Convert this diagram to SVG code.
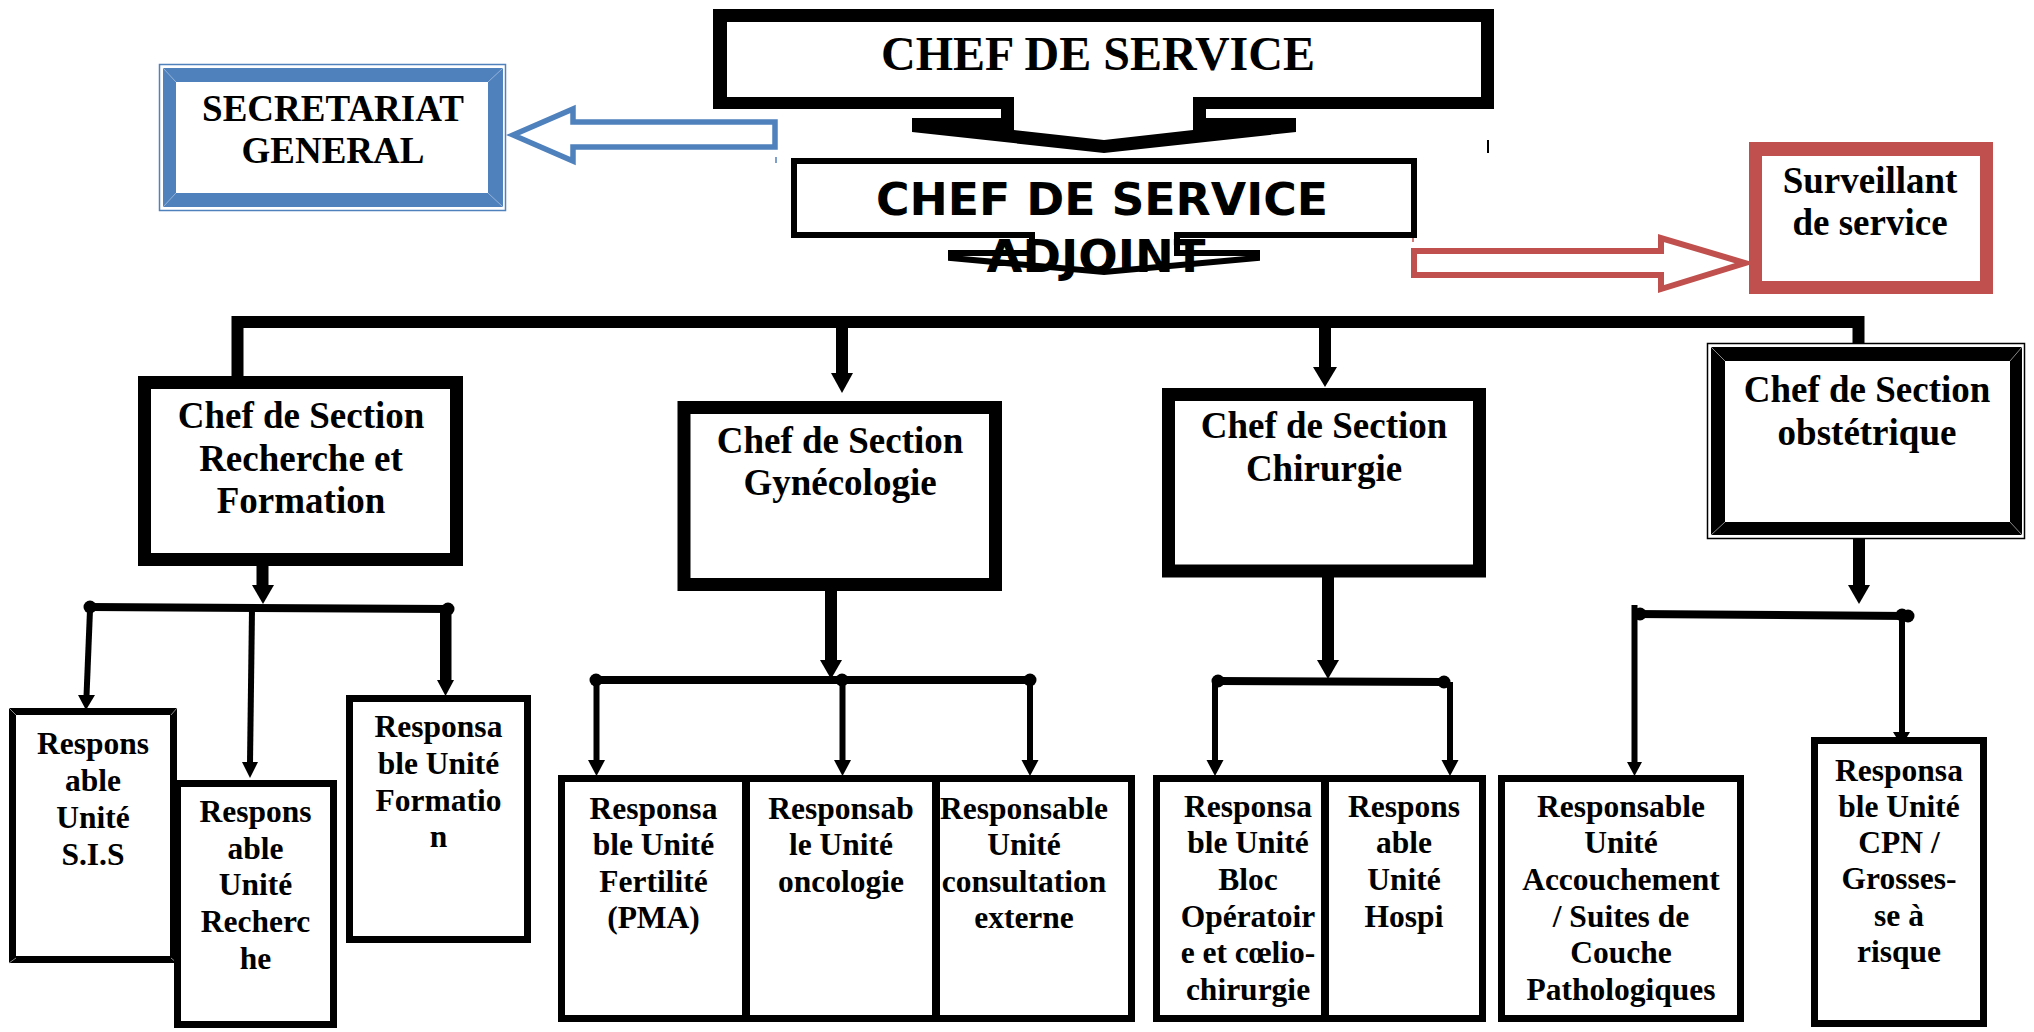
<svg xmlns="http://www.w3.org/2000/svg" width="2034" height="1032" viewBox="0 0 2034 1032">
<style>
.t{font-family:"Liberation Serif","Times New Roman",serif;font-weight:bold;text-anchor:middle;fill:#000}
.sans{font-family:"DejaVu Sans","Verdana",sans-serif;font-weight:bold;text-anchor:middle;fill:#000}
.s48{font-size:48px}.s37{font-size:37px}.s31{font-size:31.5px}
.box{fill:#fff;stroke:#000;stroke-width:13}
.sub{fill:#fff;stroke:#000;stroke-width:7}
.thick{stroke:#000;stroke-width:12;fill:none}
.thin{stroke:#000;stroke-width:6;fill:none}
.hl{stroke:#000;stroke-width:8;fill:none}
.ah{fill:#000}
</style>
<rect width="2034" height="1032" fill="#fff"/>

<g id="connectors">
  <!-- top distribution bar -->
  <path class="thick" d="M237.5,376 V322 H1858.5 V343" stroke-linejoin="miter"/>
  <line class="thick" x1="842" y1="322" x2="842" y2="374"/>
  <polygon class="ah" points="831,373 853,373 842,393"/>
  <line class="thick" x1="1325" y1="322" x2="1325" y2="368"/>
  <polygon class="ah" points="1313,367 1337,367 1325,387"/>
  <!-- section down arrows -->
  <line class="thick" x1="262.5" y1="566" x2="262.5" y2="586" stroke-width="13"/>
  <polygon class="ah" points="252,585 274,585 263,604"/>
  <line class="thick" x1="831" y1="591" x2="831" y2="661"/>
  <polygon class="ah" points="820,660 842,660 831,679"/>
  <line class="thick" x1="1328" y1="577" x2="1328" y2="661"/>
  <polygon class="ah" points="1317,660 1339,660 1328,679"/>
  <line class="thick" x1="1859" y1="539" x2="1859" y2="586" stroke-width="12"/>
  <polygon class="ah" points="1848,585 1870,585 1859,604"/>
  <!-- Recherche branch -->
  <line class="hl" x1="90" y1="607" x2="448" y2="609" stroke-width="7"/>
  <circle cx="90" cy="607" r="6.5"/>
  <circle cx="448" cy="609" r="6.5"/>
  <line class="thin" x1="90" y1="610" x2="86.5" y2="696"/>
  <polygon class="ah" points="78,695 95,695 86,710"/>
  <line class="thin" x1="252" y1="609" x2="250" y2="763"/>
  <polygon class="ah" points="242,762 258,762 250,778"/>
  <line class="thin" x1="443" y1="609" x2="443" y2="681" stroke-width="4"/>
  <line class="thin" x1="448.5" y1="609" x2="448.5" y2="681" stroke-width="4"/>
  <polygon class="ah" points="437,680 454,680 445.5,696"/>
  <!-- Gynecologie branch -->
  <line class="hl" x1="596" y1="680" x2="1030" y2="680"/>
  <circle cx="596" cy="680" r="6.5"/>
  <circle cx="842" cy="680" r="6.5"/>
  <circle cx="1030" cy="680" r="6.5"/>
  <line class="thin" x1="596.5" y1="680" x2="596.5" y2="761"/>
  <polygon class="ah" points="588,760 605,760 596.5,776"/>
  <line class="thin" x1="842.5" y1="680" x2="842.5" y2="761"/>
  <polygon class="ah" points="834,760 851,760 842.5,776"/>
  <line class="thin" x1="1030" y1="680" x2="1030" y2="761"/>
  <polygon class="ah" points="1021.5,760 1038.5,760 1030,776"/>
  <!-- Chirurgie branch -->
  <line class="hl" x1="1218" y1="681" x2="1444" y2="682"/>
  <circle cx="1218" cy="681" r="6.5"/>
  <circle cx="1444" cy="682" r="6.5"/>
  <line class="thin" x1="1215" y1="681" x2="1215" y2="761"/>
  <polygon class="ah" points="1206.5,760 1223.5,760 1215,776"/>
  <line class="thin" x1="1450" y1="682" x2="1450" y2="761"/>
  <polygon class="ah" points="1441.5,760 1458.5,760 1450,776"/>
  <!-- Obstetrique branch -->
  <line class="hl" x1="1634" y1="614" x2="1908" y2="616"/>
  <line class="thin" x1="1634.5" y1="605" x2="1634.5" y2="763"/>
  <circle cx="1640" cy="614" r="6.5"/>
  <circle cx="1902" cy="615" r="6.5"/>
  <circle cx="1908" cy="616" r="6.5"/>
  <polygon class="ah" points="1627,762 1642,762 1634.5,776"/>
  <line class="thin" x1="1902" y1="616" x2="1902" y2="733"/>
  <polygon class="ah" points="1893,732 1910,732 1901.5,746"/>
  <!-- blue arrow to secretariat -->
  <path d="M513,135 L573,109 V122 H775 V147 H573 V161 Z" fill="#fff" stroke="#4F81BD" stroke-width="5.5" stroke-linejoin="miter"/>
  <!-- red arrow to surveillant -->
  <path d="M1414,251 H1661 V238 L1745,263 L1661,289 V275 H1414 Z" fill="#fff" stroke="#C0504D" stroke-width="6" stroke-linejoin="miter"/>
  <!-- small ticks -->
  <line x1="776" y1="157" x2="776" y2="163" stroke="#4F81BD" stroke-width="1.5"/>
  <line x1="1413" y1="235" x2="1413" y2="242" stroke="#C0504D" stroke-width="1.5"/>
  <line x1="1488" y1="140" x2="1488" y2="153" stroke="#000" stroke-width="2"/>
</g>

<g id="chef-de-service">
  <polygon points="713,9 1494,9 1494,109 1206,109 1206,118 1296,118 1296,132 1104,153 912,132 912,118 1001,118 1001,109 713,109" fill="#000"/>
  <polygon points="727,22 1481,22 1481,97 1193,97 1193,130 1104,140 1014,130 1014,97 727,97" fill="#fff"/>
  <text class="t s48" x="1098" y="70">CHEF DE SERVICE</text>
</g>

<g id="chef-de-service-adjoint">
  <path d="M794,161 H1414 V235 H1177 V253 H1257 V258 L1104,272 L951,258 V253 H1032 V235 H794 Z" fill="#fff" stroke="#000" stroke-width="6" stroke-linejoin="miter"/>
  <text class="sans" font-size="45" x="1102" y="215" textLength="452" lengthAdjust="spacingAndGlyphs">CHEF DE SERVICE</text>
  <text class="sans" font-size="45" x="1096" y="272" textLength="219" lengthAdjust="spacingAndGlyphs">ADJOINT</text>
</g>

<g id="secretariat">
  <rect x="159.5" y="64.5" width="346" height="146" fill="none" stroke="#4F81BD" stroke-width="1.5"/>
  <rect x="163" y="68" width="340" height="139" fill="#4F81BD"/>
  <rect x="176" y="82" width="312" height="111" fill="#fff"/>
  <g stroke="#95B3D7" stroke-width="1">
    <line x1="163" y1="68" x2="176" y2="82"/><line x1="503" y1="68" x2="488" y2="82"/>
    <line x1="163" y1="207" x2="176" y2="193"/><line x1="503" y1="207" x2="488" y2="193"/>
  </g>
  <text class="t s37"><tspan x="333" y="121">SECRETARIAT</tspan><tspan x="333" y="163">GENERAL</tspan></text>
</g>

<g id="surveillant">
  <rect x="1749" y="142" width="244" height="152" fill="#C0504D"/>
  <rect x="1762" y="156" width="218" height="125" fill="#fff"/>
  <text class="t s37"><tspan x="1870" y="193">Surveillant</tspan><tspan x="1870" y="235">de service</tspan></text>
</g>

<g id="section-recherche">
  <rect class="box" x="144.5" y="382.5" width="312" height="177"/>
  <text class="t s37"><tspan x="301" y="428">Chef de Section</tspan><tspan x="301" y="470.5">Recherche et</tspan><tspan x="301" y="513">Formation</tspan></text>
</g>

<g id="section-gynecologie">
  <rect class="box" x="684" y="407.5" width="311.5" height="177"/>
  <text class="t s37"><tspan x="840" y="452.5">Chef de Section</tspan><tspan x="840" y="495">Gynécologie</tspan></text>
</g>

<g id="section-chirurgie">
  <rect class="box" x="1168.5" y="394.5" width="311" height="176.5"/>
  <text class="t s37"><tspan x="1324" y="438">Chef de Section</tspan><tspan x="1324" y="480.5">Chirurgie</tspan></text>
</g>

<g id="section-obstetrique">
  <rect x="1707.5" y="343.5" width="317" height="195" fill="none" stroke="#000" stroke-width="1.5"/>
  <rect x="1711" y="347" width="311" height="188" fill="#000"/>
  <rect x="1725" y="361" width="285" height="161" fill="#fff"/>
  <g stroke="#888" stroke-width="1">
    <line x1="1711" y1="347" x2="1725" y2="361"/><line x1="2022" y1="347" x2="2010" y2="361"/>
    <line x1="1711" y1="535" x2="1725" y2="522"/><line x1="2022" y1="535" x2="2010" y2="522"/>
  </g>
  <text class="t s37"><tspan x="1867" y="402">Chef de Section</tspan><tspan x="1867" y="444.5">obstétrique</tspan></text>
</g>

<g id="unite-sis">
  <rect class="sub" x="12.5" y="711.5" width="161" height="248"/>
  <g stroke="#888" stroke-width="1">
    <line x1="9" y1="708" x2="16" y2="715"/><line x1="177" y1="708" x2="171" y2="715"/>
    <line x1="9" y1="963" x2="16" y2="958"/><line x1="177" y1="963" x2="171" y2="958"/>
  </g>
  <text class="t s31"><tspan x="93" y="754">Respons</tspan><tspan x="93" y="791">able</tspan><tspan x="93" y="828">Unité</tspan><tspan x="93" y="865">S.I.S</tspan></text>
</g>

<g id="unite-recherche">
  <rect class="sub" x="177.5" y="783.5" width="156" height="241"/>
  <text class="t s31"><tspan x="255.5" y="822">Respons</tspan><tspan x="255.5" y="859">able</tspan><tspan x="255.5" y="895">Unité</tspan><tspan x="255.5" y="932">Recherc</tspan><tspan x="255.5" y="969">he</tspan></text>
</g>

<g id="unite-formation">
  <rect class="sub" x="349.5" y="698.5" width="178" height="241"/>
  <text class="t s31"><tspan x="438.5" y="737">Responsa</tspan><tspan x="438.5" y="774">ble Unité</tspan><tspan x="438.5" y="811">Formatio</tspan><tspan x="438.5" y="847">n</tspan></text>
</g>

<g id="unite-fertilite">
  <rect class="sub" x="561.5" y="778.5" width="184" height="240"/>
  <text class="t s31"><tspan x="653.5" y="819">Responsa</tspan><tspan x="653.5" y="855">ble Unité</tspan><tspan x="653.5" y="892">Fertilité</tspan><tspan x="653.5" y="928">(PMA)</tspan></text>
</g>

<g id="unite-oncologie">
  <rect class="sub" x="746.5" y="778.5" width="189" height="240"/>
  <text class="t s31"><tspan x="841" y="819">Responsab</tspan><tspan x="841" y="855">le Unité</tspan><tspan x="841" y="892">oncologie</tspan></text>
</g>

<g id="unite-consultation">
  <rect class="sub" x="936.5" y="778.5" width="195" height="240"/>
  <text class="t s31"><tspan x="1024" y="819">Responsable</tspan><tspan x="1024" y="855">Unité</tspan><tspan x="1024" y="892">consultation</tspan><tspan x="1024" y="928">externe</tspan></text>
</g>

<g id="unite-bloc">
  <rect class="sub" x="1156.5" y="778.5" width="168" height="240"/>
  <text class="t s31"><tspan x="1248" y="817">Responsa</tspan><tspan x="1248" y="853">ble Unité</tspan><tspan x="1248" y="890">Bloc</tspan><tspan x="1248" y="927">Opératoir</tspan><tspan x="1248" y="963">e et cœlio-</tspan><tspan x="1248" y="1000">chirurgie</tspan></text>
</g>

<g id="unite-hospi">
  <rect class="sub" x="1325.5" y="778.5" width="157" height="240"/>
  <text class="t s31"><tspan x="1404" y="817">Respons</tspan><tspan x="1404" y="853">able</tspan><tspan x="1404" y="890">Unité</tspan><tspan x="1404" y="927">Hospi</tspan></text>
</g>

<g id="unite-accouchement">
  <rect class="sub" x="1501.5" y="778.5" width="239" height="240"/>
  <text class="t s31"><tspan x="1621" y="817">Responsable</tspan><tspan x="1621" y="853">Unité</tspan><tspan x="1621" y="890">Accouchement</tspan><tspan x="1621" y="927">/ Suites de</tspan><tspan x="1621" y="963">Couche</tspan><tspan x="1621" y="1000">Pathologiques</tspan></text>
</g>

<g id="unite-cpn">
  <rect class="sub" x="1814.5" y="740.5" width="169" height="283"/>
  <text class="t s31"><tspan x="1899" y="781">Responsa</tspan><tspan x="1899" y="817">ble Unité</tspan><tspan x="1899" y="853">CPN /</tspan><tspan x="1899" y="889">Grosses-</tspan><tspan x="1899" y="926">se à</tspan><tspan x="1899" y="962">risque</tspan></text>
</g>
</svg>
